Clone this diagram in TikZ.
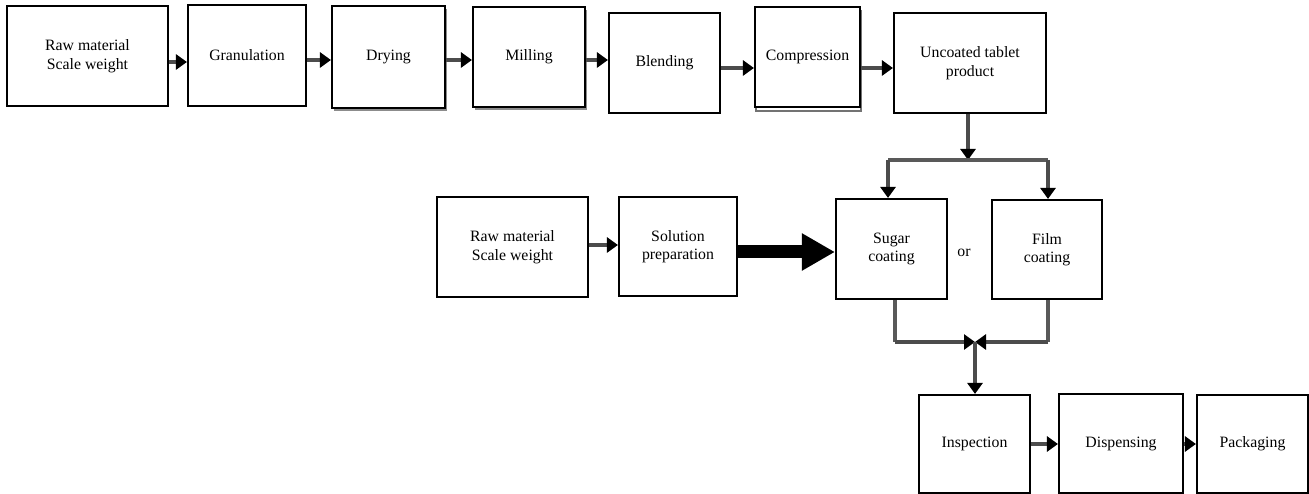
\documentclass[tikz,border=0pt]{standalone}
\usepackage{fontspec}
\setmainfont{Liberation Serif}
\usetikzlibrary{arrows.meta,shadows}
\begin{document}
\begin{tikzpicture}[x=1pt,y=-1pt,
 box/.style={draw=black, line width=2.1pt, fill=white, align=center, inner sep=0pt, font=\fontsize{15.8}{18.5}\selectfont},
 arr/.style={draw=black!70, line width=3.4pt, -{Triangle[length=11pt,width=15pt,color=black]}},
 ln/.style={draw=black!65, line width=3.4pt},
 bigarr/.style={draw=black, line width=13pt, -{Triangle[length=33pt,width=35pt]}},
 shd/.style={drop shadow={shadow xshift=2pt, shadow yshift=-3pt, fill=black!45, opacity=1}},
 dblbottom/.style={copy shadow={shadow xshift=1pt, shadow yshift=-4pt, draw=black!55, line width=1.4pt, fill=white}}]

\useasboundingbox (0,0) rectangle (1309,494);

% top row
\node[box, minimum width=161pt, minimum height=100pt] (raw1) at (87.5,56) {Raw material\\Scale weight};
\node[box, minimum width=118pt, minimum height=101pt] (gran) at (247,55.5) {Granulation};
\node[box, shd, minimum width=113pt, minimum height=102pt] (dry) at (388.5,57) {Drying};
\node[box, shd, minimum width=112pt, minimum height=100pt] (mill) at (529,57) {Milling};
\node[box, minimum width=111pt, minimum height=100pt] (blend) at (664.5,63) {Blending};
\node[box, dblbottom, minimum width=105pt, minimum height=100pt] (comp) at (807.5,57) {Compression};
\node[box, minimum width=152pt, minimum height=100pt] (unc) at (970,63) {Uncoated tablet\\product};

% middle row
\node[box, minimum width=151pt, minimum height=100pt] (raw2) at (512.5,247) {Raw material\\Scale weight};
\node[box, minimum width=118pt, minimum height=99pt] (sol) at (678,246.5) {Solution\\preparation};
\node[box, minimum width=111pt, minimum height=100pt] (sugar) at (891.5,249) {Sugar\\coating};
\node[box, minimum width=110pt, minimum height=99pt] (film) at (1047,249.5) {Film\\coating};
\node[font=\fontsize{15.8}{18.5}\selectfont] (or) at (964,253) {or};

% bottom row
\node[box, minimum width=111pt, minimum height=98pt] (insp) at (974.5,444) {Inspection};
\node[box, minimum width=124pt, minimum height=99pt] (disp) at (1121,443.5) {Dispensing};
\node[box, minimum width=111pt, minimum height=98pt] (pack) at (1252.5,444) {Packaging};

% top row arrows
\draw[arr] (raw1.east |- 0,62) -- (gran.west |- 0,62);
\draw[arr] (gran.east |- 0,60) -- (dry.west |- 0,60);
\draw[arr] (dry.east |- 0,60) -- (mill.west |- 0,60);
\draw[arr] (mill.east |- 0,60) -- (blend.west |- 0,60);
\draw[arr] (blend.east |- 0,68) -- (comp.west |- 0,68);
\draw[arr] (comp.east |- 0,68) -- (unc.west |- 0,68);

% split to coatings
\coordinate (split) at (968,160);
\coordinate (sl) at (888,160);
\coordinate (sr) at (1048,160);
\draw[arr] (unc.south -| split) -- (split);
\draw[ln] (sl) -- (sr);
\draw[arr] (sl) -- (sl |- sugar.north);
\draw[arr] (sr) -- (sr |- film.north);

% middle arrows
\draw[arr] (raw2.east |- 0,245) -- (sol.west |- 0,245);
\draw[bigarr] (sol.east |- 0,252) -- (sugar.west |- 0,252);

% join
\coordinate (join) at (975,342);
\coordinate (bl) at (895,342);
\coordinate (br) at (1048,342);
\draw[ln] (bl |- sugar.south) -- (bl);
\draw[arr] (bl) -- (join);
\draw[ln] (br |- film.south) -- (br);
\draw[arr] (br) -- (join);
\draw[arr] (join) -- (join |- insp.north);

% bottom arrows
\draw[arr] (insp.east |- 0,444) -- (disp.west |- 0,444);
\draw[arr] (disp.east |- 0,444) -- (pack.west |- 0,444);
\end{tikzpicture}
\end{document}
